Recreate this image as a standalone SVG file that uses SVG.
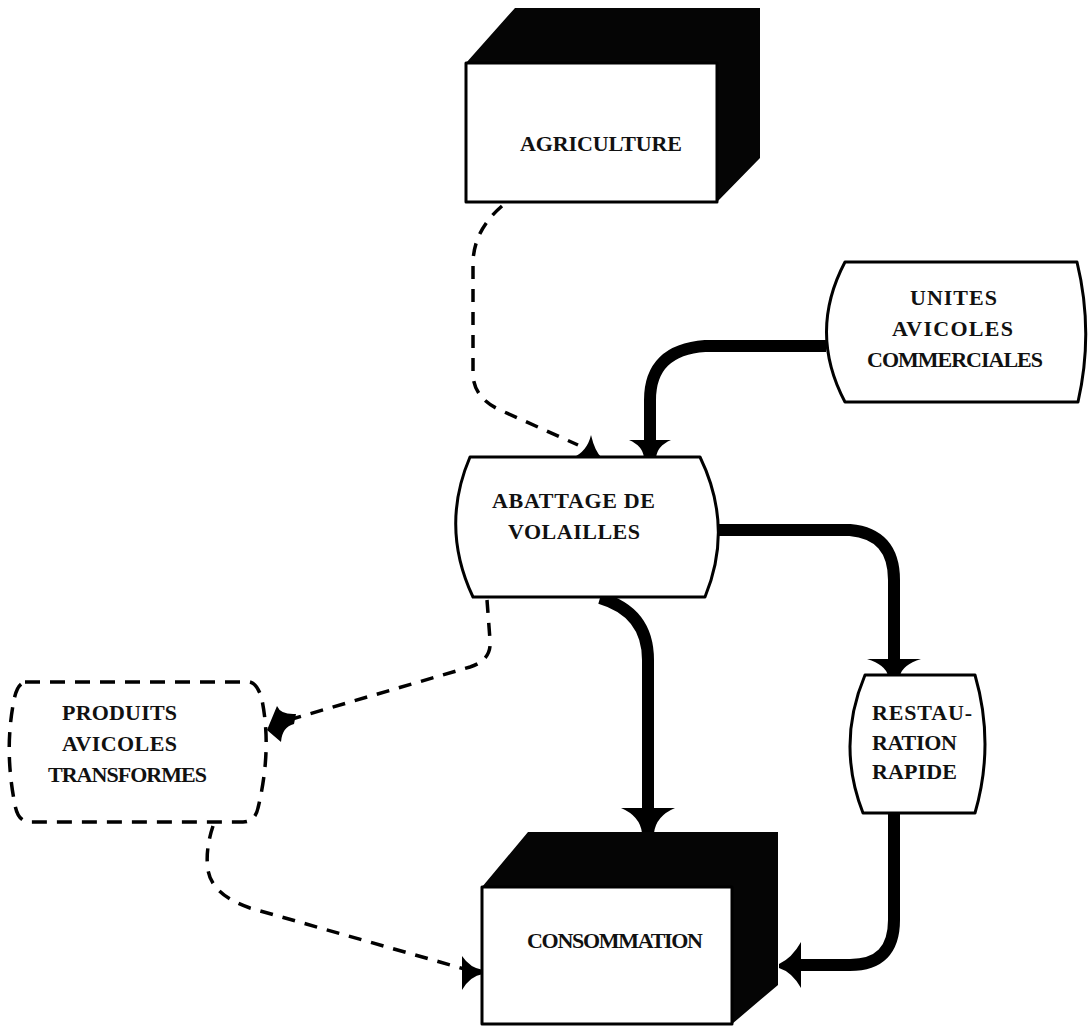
<svg xmlns="http://www.w3.org/2000/svg" width="1089" height="1028" viewBox="0 0 1089 1028">
  <style>
    .lbl { font-family: "Liberation Serif", "Times New Roman", serif; font-size: 22px; font-weight: bold; fill: #111; }
    .box { fill: #fff; stroke: #000; stroke-width: 3; stroke-linejoin: round; }
    .shade { fill: #050505; }
    .dbox { fill: none; stroke: #000; stroke-width: 3.5; stroke-dasharray: 15 10; }
    .flow { fill: none; stroke: #000; stroke-width: 12; stroke-linejoin: round; }
    .dash { fill: none; stroke: #000; stroke-width: 3.5; stroke-dasharray: 13 10; }
    .head { fill: #000; }
  </style>
  <rect width="1089" height="1028" fill="#fff"/>

  <!-- connectors -->
  <g id="connectors">
    <path class="flow" d="M826,346 L705,346 Q650,350 650,400 L650,443"/>
    <path class="head" d="M629,440 L671,440 Q657,446 656,458 L644,458 Q643,446 629,440 Z"/>

    <path class="flow" d="M717,530 L850,530 Q894,534 894,580 L894,662"/>
    <path class="head" d="M867,659 L921,659 Q902,665 900,676 L888,676 Q886,665 867,659 Z"/>

    <path class="flow" d="M600,598 Q648,612 648,660 L648,812"/>
    <path class="head" d="M621,808 L675,808 Q656,816 654,833 L642,833 Q640,816 621,808 Z"/>

    <path class="flow" d="M894,813 L894,920 Q894,965 850,965 L796,965"/>
    <path class="head" d="M801,942 Q792,958 779,964 L779,968 Q792,972 801,988 Z"/>

    <path class="dash" d="M502,206 Q474,230 473,262 L473,375 Q474,398 500,410 L578,445"/>
    <path class="head" d="M572,458 Q587,452 591,435 Q595,452 602,458 Z"/>

    <path class="dash" d="M487,600 L490,640 Q492,660 470,667 L292,719"/>
    <path class="head" d="M267,730 L277,706 Q281,715 296,714 L294,724 Q282,727 281,742 Z"/>

    <path class="dash" d="M213,826 Q205,850 208,870 Q212,895 250,908 L468,970"/>
    <path class="head" d="M462,956 Q470,968 483,970 L483,974 Q470,976 462,990 Z"/>
  </g>

  <!-- AGRICULTURE: extruded block -->
  <g id="agriculture">
    <polygon class="shade" points="466,63 515,8 760,8 760,158 717,202 717,63"/>
    <rect class="box" x="466" y="63" width="251" height="139"/>
    <text class="lbl" x="520" y="151" textLength="162" lengthAdjust="spacing">AGRICULTURE</text>
  </g>

  <!-- UNITES AVICOLES COMMERCIALES -->
  <g id="unites">
    <path class="box" d="M845,262 L1077,262 Q1094,332 1078,402 L845,402 Q808,332 845,262 Z"/>
    <text class="lbl" x="910" y="305" textLength="87" lengthAdjust="spacing">UNITES</text>
    <text class="lbl" x="892" y="336" textLength="121" lengthAdjust="spacing">AVICOLES</text>
    <text class="lbl" x="867" y="367" textLength="176" lengthAdjust="spacing">COMMERCIALES</text>
  </g>

  <!-- ABATTAGE DE VOLAILLES -->
  <g id="abattage">
    <path class="box" d="M470,457 L700,457 Q734,527 705,597 L473,597 Q440,527 470,457 Z"/>
    <text class="lbl" x="492" y="508" textLength="163" lengthAdjust="spacing">ABATTAGE DE</text>
    <text class="lbl" x="508" y="539" textLength="132" lengthAdjust="spacing">VOLAILLES</text>
  </g>

  <!-- PRODUITS AVICOLES TRANSFORMES (dashed outline) -->
  <g id="produits">
    <path class="dbox" d="M25,682 L250,682 Q258,684 262,700 Q272,750 258,808 Q255,822 243,822 L30,822 Q18,822 15,805 Q4,750 14,700 Q17,684 25,682 Z"/>
    <text class="lbl" x="62" y="720" textLength="115" lengthAdjust="spacing">PRODUITS</text>
    <text class="lbl" x="62" y="751" textLength="115" lengthAdjust="spacing">AVICOLES</text>
    <text class="lbl" x="48" y="782" textLength="159" lengthAdjust="spacing">TRANSFORMES</text>
  </g>

  <!-- RESTAURATION RAPIDE -->
  <g id="restauration">
    <path class="box" d="M865,675 L975,675 Q995,744 975,813 L863,813 Q836,744 865,675 Z"/>
    <text class="lbl" x="872" y="720" textLength="100" lengthAdjust="spacing">RESTAU-</text>
    <text class="lbl" x="872" y="750" textLength="85" lengthAdjust="spacing">RATION</text>
    <text class="lbl" x="872" y="779" textLength="85" lengthAdjust="spacing">RAPIDE</text>
  </g>

  <!-- CONSOMMATION: extruded block -->
  <g id="consommation">
    <polygon class="shade" points="482,887 528,832 778,832 778,985 732,1024 732,887"/>
    <rect class="box" x="482" y="887" width="250" height="137"/>
    <text class="lbl" x="527" y="948" textLength="176" lengthAdjust="spacing">CONSOMMATION</text>
  </g>
</svg>
